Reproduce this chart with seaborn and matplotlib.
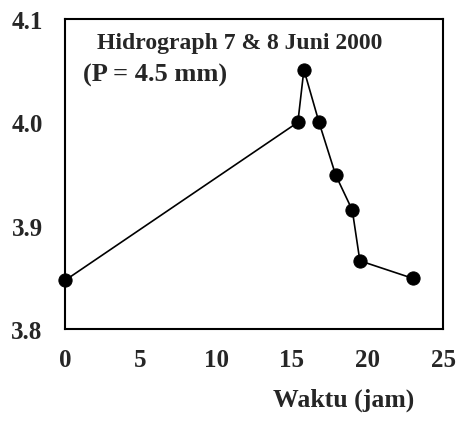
import matplotlib
matplotlib.use('Agg')
import matplotlib.pyplot as plt
import seaborn as sns
import pandas as pd

# Data hidrograf
waktu = [0.0, 15.4, 15.8, 16.8, 17.9, 19.0, 19.5, 23.0]
tinggi = [3.847, 4.000, 4.051, 4.000, 3.949, 3.915, 3.866, 3.849]
x_ticks = [0, 5, 10, 15, 20, 25]
y_ticks = [3.8, 3.9, 4.0, 4.1]

df = pd.DataFrame({'waktu': waktu, 'tinggi': tinggi})

sns.set_style('white')
plt.rcParams['font.family'] = ['Liberation Serif', 'DejaVu Serif']
plt.rcParams['font.weight'] = 'bold'

fig = plt.figure(figsize=(4.72, 4.35), dpi=100)
ax = fig.add_axes([0.1377, 0.2414, 0.8009, 0.7126])

sns.lineplot(data=df, x='waktu', y='tinggi', sort=False, color='black',
             linewidth=1.2, marker='o', markersize=9.5,
             markeredgecolor='black', markerfacecolor='black',
             clip_on=False, ax=ax)

ax.set_xlim(0, 25)
ax.set_ylim(3.8, 4.1)
ax.set_xticks(x_ticks)
ax.set_yticks(y_ticks)
ax.set_xticklabels([str(t) for t in x_ticks], fontsize=18, fontweight='bold')
ax.set_yticklabels([f'{t:.1f}' for t in y_ticks], fontsize=18, fontweight='bold')
ax.tick_params(axis='both', direction='out', length=3, width=0.8, color='black')
ax.tick_params(axis='x', pad=11)
ax.tick_params(axis='y', pad=13)
ax.set_xlabel('')
ax.set_ylabel('')

for s in ax.spines.values():
    s.set_color('black')
    s.set_linewidth(1.5)

ax.text(2.1, 4.077, 'Hidrograph 7 & 8 Juni 2000', fontsize=17,
        fontweight='bold', va='center', ha='left')
ax.text(1.2, 4.046, '(P = 4.5 mm)', fontsize=19,
        fontweight='bold', va='center', ha='left')

fig.text(344 / 472, 1 - 400 / 435, 'Waktu (jam)', fontsize=18.5,
         fontweight='bold', ha='center', va='center')

fig.savefig('out.png', dpi=100)
